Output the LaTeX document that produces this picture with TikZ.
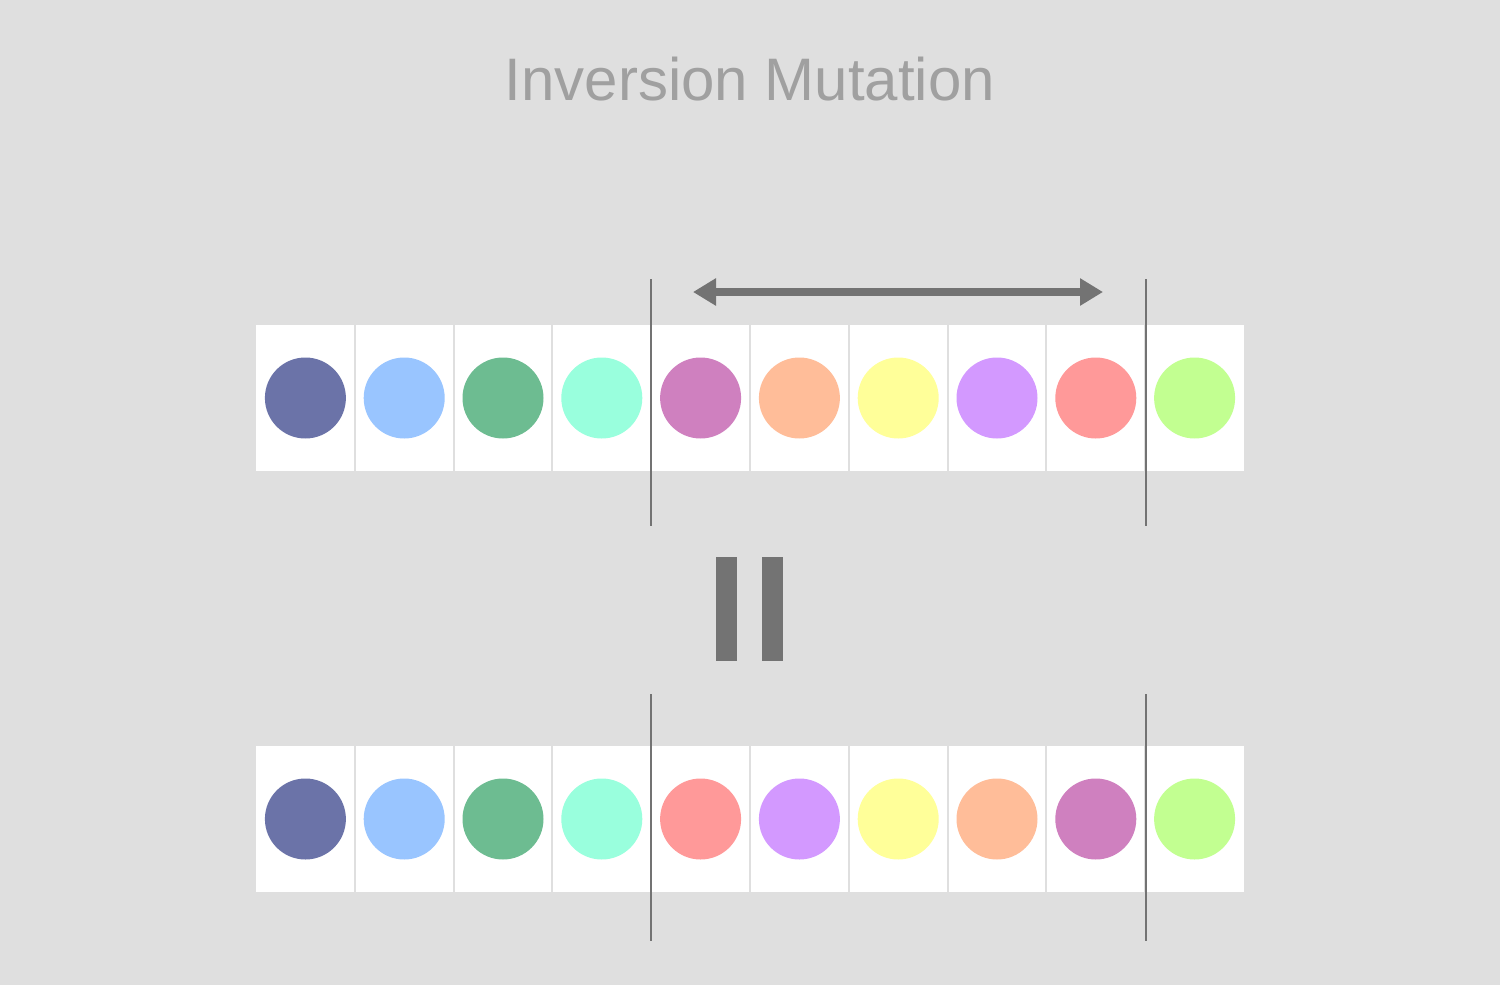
\documentclass[tikz,border=0pt]{standalone}
\usepackage{fontspec}
\setmainfont{Liberation Sans}
\usetikzlibrary{arrows.meta}
\definecolor{bg}{HTML}{DFDFDF}
\definecolor{titlegray}{HTML}{A0A0A0}
\definecolor{dark}{HTML}{737373}
\definecolor{cA}{HTML}{6B73A8}
\definecolor{cB}{HTML}{99C5FF}
\definecolor{cC}{HTML}{6DBC91}
\definecolor{cD}{HTML}{99FFDD}
\definecolor{cE}{HTML}{CF80BF}
\definecolor{cF}{HTML}{FFBD99}
\definecolor{cG}{HTML}{FFFF99}
\definecolor{cH}{HTML}{D399FF}
\definecolor{cI}{HTML}{FF9999}
\definecolor{cJ}{HTML}{C2FF91}
\tikzset{
  chrom/.style={fill=white, draw=none, minimum width=494pt, minimum height=73pt, inner sep=0pt},
  sep/.style={draw=bg, line width=1pt},
  cut/.style={draw=dark, line width=1pt},
  gene/.style={circle, draw=none, minimum size=40.5pt, inner sep=0pt},
  arr/.style={draw=dark, line width=4pt, {Triangle[length=11.5pt,width=13pt]}-{Triangle[length=11.5pt,width=13pt]}},
  bar/.style={fill=dark, draw=none, minimum width=10.5pt, minimum height=52pt, inner sep=0pt}
}
\begin{document}
\begin{tikzpicture}[x=0.5pt,y=-0.5pt]
\fill[bg] (0,0) rectangle (1500,985);
\useasboundingbox (0,0) rectangle (1500,985);
\node[text=titlegray, font=\fontsize{30}{36}\selectfont, anchor=base, inner sep=0pt] (title) at (750,100) {Inversion Mutation};
% rows
\node[chrom] (top) at (750,398) {};
\node[chrom] (bot) at (750,819) {};
\foreach \k in {1,...,9} {
  \draw[sep] ({256+98.8*\k},325) -- ({256+98.8*\k},471);
  \draw[sep] ({256+98.8*\k},746) -- ({256+98.8*\k},892);
}
\foreach \c [count=\i] in {cA,cB,cC,cD,cE,cF,cG,cH,cI,cJ}
  \node[gene, fill=\c] (t\i) at ({256+98.8*(\i-0.5)},398) {};
\foreach \c [count=\i] in {cA,cB,cC,cD,cI,cH,cG,cF,cE,cJ}
  \node[gene, fill=\c] (b\i) at ({256+98.8*(\i-0.5)},819) {};
% cut lines
\coordinate (tl1) at (651,279); \coordinate (tl2) at (651,526);
\coordinate (tr1) at (1146,279); \coordinate (tr2) at (1146,526);
\coordinate (bl1) at (651,694); \coordinate (bl2) at (651,941);
\coordinate (br1) at (1146,694); \coordinate (br2) at (1146,941);
\draw[cut] (tl1) -- (tl2);
\draw[cut] (tr1) -- (tr2);
\draw[cut] (bl1) -- (bl2);
\draw[cut] (br1) -- (br2);
% arrow
\coordinate (al) at (693,292);
\coordinate (ar) at (1103,292);
\draw[arr] (al) -- (ar);
% equals (rotated)
\node[bar] (eq1) at (726.5,609) {};
\node[bar] (eq2) at (772.5,609) {};
\end{tikzpicture}
\end{document}
